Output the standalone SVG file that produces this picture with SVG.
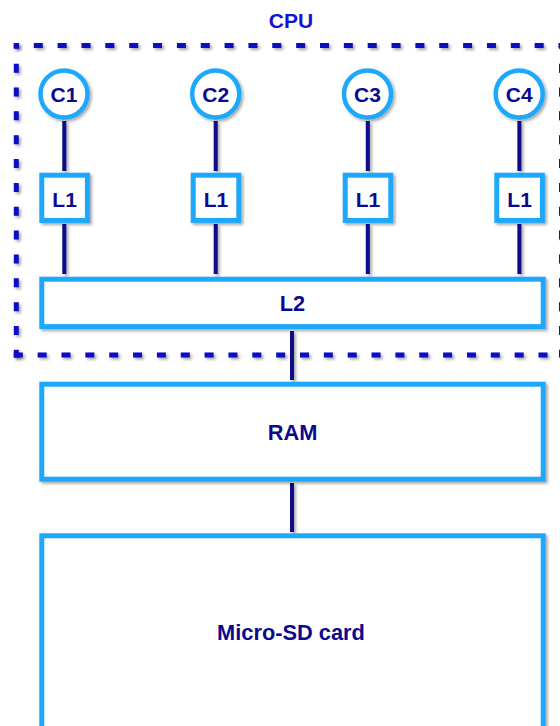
<svg xmlns="http://www.w3.org/2000/svg" width="560" height="726" viewBox="0 0 560 726">
  <defs>
    <filter id="sh" x="-20%" y="-20%" width="140%" height="140%">
      <feDropShadow dx="2" dy="2" stdDeviation="1.5" flood-color="#000" flood-opacity="0.35"/>
    </filter>
    <filter id="shu" filterUnits="userSpaceOnUse" x="0" y="0" width="560" height="726">
      <feDropShadow dx="2" dy="2" stdDeviation="1.5" flood-color="#000" flood-opacity="0.35"/>
    </filter>
  </defs>
  <style>
    .box { fill: #fff; stroke: #1fa9fb; stroke-width: 5; filter: url(#sh); }
    .circ { fill: #fff; stroke: #1fa9fb; stroke-width: 4.5; filter: url(#sh); }
    .lbl { font-family: "Liberation Sans", Arial, sans-serif; font-weight: bold; font-size: 21px; fill: #0a0a8e; text-anchor: middle; }
    .big { font-size: 21.8px; }
    .edge { stroke: #08088c; stroke-width: 4; fill: none; filter: url(#shu); }
    .cpu { fill: none; stroke: #0909c4; stroke-width: 5; stroke-dasharray: 9 14.85; filter: url(#shu); }
    .cpulbl { font-family: "Liberation Sans", Arial, sans-serif; font-weight: bold; font-size: 21px; fill: #1414d2; text-anchor: middle; }
  </style>
  <rect width="560" height="726" fill="#fff"/>

  <g id="cpu">
    <path class="cpu" d="M13.8 45.5 H564" stroke-dashoffset="3.85"/>
    <path class="cpu" d="M16.3 43 V357.5" stroke-dashoffset="3.2"/>
    <path class="cpu" d="M13.8 355 H564"/>
    <path class="cpu" d="M561.5 43 V357.5" stroke-dashoffset="3.2"/>
    <text class="cpulbl" x="291" y="28.3">CPU</text>
  </g>

  <g id="connectors">
    <line class="edge" x1="64.3" y1="121" x2="64.3" y2="171"/>
    <line class="edge" x1="215.7" y1="121" x2="215.7" y2="171"/>
    <line class="edge" x1="367.8" y1="121" x2="367.8" y2="171"/>
    <line class="edge" x1="519.4" y1="121" x2="519.4" y2="171"/>
    <line class="edge" x1="64.3" y1="224" x2="64.3" y2="274"/>
    <line class="edge" x1="215.7" y1="224" x2="215.7" y2="274"/>
    <line class="edge" x1="367.8" y1="224" x2="367.8" y2="274"/>
    <line class="edge" x1="519.4" y1="224" x2="519.4" y2="274"/>
    <line class="edge" x1="292" y1="331" x2="292" y2="380"/>
    <line class="edge" x1="292" y1="483" x2="292" y2="532"/>
  </g>

  <g id="c1"><circle class="circ" cx="64" cy="94" r="23.5"/><text class="lbl" x="64" y="101.6">C1</text></g>
  <g id="c2"><circle class="circ" cx="215.7" cy="94" r="23.5"/><text class="lbl" x="215.7" y="101.6">C2</text></g>
  <g id="c3"><circle class="circ" cx="367.5" cy="94" r="23.5"/><text class="lbl" x="367.5" y="101.6">C3</text></g>
  <g id="c4"><circle class="circ" cx="519.2" cy="94" r="23.5"/><text class="lbl" x="519.2" y="101.6">C4</text></g>

  <g id="l1a"><rect class="box" x="41.8" y="175.2" width="45.6" height="45.2"/><text class="lbl" x="64.6" y="206.6">L1</text></g>
  <g id="l1b"><rect class="box" x="193.2" y="175.2" width="45.6" height="45.2"/><text class="lbl" x="216" y="206.6">L1</text></g>
  <g id="l1c"><rect class="box" x="345.2" y="175.2" width="45.6" height="45.2"/><text class="lbl" x="368" y="206.6">L1</text></g>
  <g id="l1d"><rect class="box" x="496.8" y="175.2" width="45.6" height="45.2"/><text class="lbl" x="519.6" y="206.6">L1</text></g>

  <g id="l2"><rect class="box" x="41.8" y="279.2" width="501.4" height="47.4"/><text class="lbl big" x="292.5" y="310.5">L2</text></g>
  <g id="ram"><rect class="box" x="41.8" y="384.2" width="501.4" height="95"/><text class="lbl big" x="292.5" y="439.5">RAM</text></g>
  <g id="sd"><rect class="box" x="41.8" y="535.8" width="501.4" height="220"/><text class="lbl big" x="291" y="639.5">Micro-SD card</text></g>
</svg>
